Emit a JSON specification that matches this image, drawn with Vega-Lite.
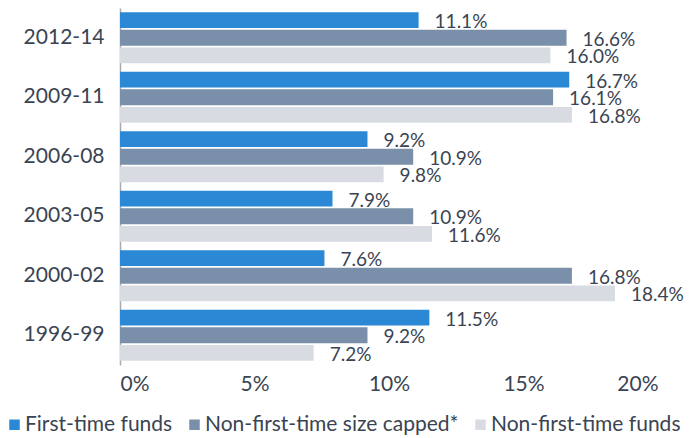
{
  "$schema": "https://vega.github.io/schema/vega-lite/v6.json",
  "width": 538,
  "height": 357,
  "autosize": {"type": "none"},
  "padding": {"left": 120, "top": 8, "right": 31, "bottom": 73},
  "background": "white",
  "config": {
    "view": {"stroke": null},
    "font": "Lato",
    "text": {"font": "Lato"}
  },
  "data": {
    "values": [
      {"period": "2012-14", "series": "First-time funds", "value": 0.111},
      {"period": "2012-14", "series": "Non-first-time size capped*", "value": 0.166},
      {"period": "2012-14", "series": "Non-first-time funds", "value": 0.160},
      {"period": "2009-11", "series": "First-time funds", "value": 0.167},
      {"period": "2009-11", "series": "Non-first-time size capped*", "value": 0.161},
      {"period": "2009-11", "series": "Non-first-time funds", "value": 0.168},
      {"period": "2006-08", "series": "First-time funds", "value": 0.092},
      {"period": "2006-08", "series": "Non-first-time size capped*", "value": 0.109},
      {"period": "2006-08", "series": "Non-first-time funds", "value": 0.098},
      {"period": "2003-05", "series": "First-time funds", "value": 0.079},
      {"period": "2003-05", "series": "Non-first-time size capped*", "value": 0.109},
      {"period": "2003-05", "series": "Non-first-time funds", "value": 0.116},
      {"period": "2000-02", "series": "First-time funds", "value": 0.076},
      {"period": "2000-02", "series": "Non-first-time size capped*", "value": 0.168},
      {"period": "2000-02", "series": "Non-first-time funds", "value": 0.184},
      {"period": "1996-99", "series": "First-time funds", "value": 0.115},
      {"period": "1996-99", "series": "Non-first-time size capped*", "value": 0.092},
      {"period": "1996-99", "series": "Non-first-time funds", "value": 0.072}
    ]
  },
  "encoding": {
    "y": {
      "field": "period",
      "type": "nominal",
      "sort": ["2012-14", "2009-11", "2006-08", "2003-05", "2000-02", "1996-99"],
      "scale": {"paddingInner": 0.14, "paddingOuter": 0.07},
      "axis": {
        "title": null,
        "ticks": false,
        "domainColor": "#a6abb2",
        "domainWidth": 1.5,
        "labelFontSize": 21,
        "labelColor": "#3a4452",
        "labelPadding": 16,
        "labelFont": "Lato"
      }
    },
    "yOffset": {
      "field": "series",
      "type": "nominal",
      "sort": ["First-time funds", "Non-first-time size capped*", "Non-first-time funds"],
      "scale": {"paddingInner": 0.1}
    },
    "x": {
      "field": "value",
      "type": "quantitative",
      "scale": {"domain": [0, 0.2], "nice": false},
      "axis": {
        "title": null,
        "format": ".0%",
        "values": [0, 0.05, 0.1, 0.15, 0.2],
        "grid": false,
        "domain": false,
        "ticks": false,
        "labelFontSize": 21,
        "labelColor": "#3a4452",
        "labelPadding": 8,
        "labelFont": "Lato"
      }
    }
  },
  "layer": [
    {
      "mark": {"type": "bar"},
      "encoding": {
        "color": {
          "field": "series",
          "type": "nominal",
          "sort": ["First-time funds", "Non-first-time size capped*", "Non-first-time funds"],
          "scale": {
            "domain": ["First-time funds", "Non-first-time size capped*", "Non-first-time funds"],
            "range": ["#2a88d4", "#7a8fa9", "#d8dce2"]
          },
          "legend": {
            "title": null,
            "orient": "none",
            "direction": "horizontal",
            "legendX": -116,
            "legendY": 406,
            "symbolType": "square",
            "symbolSize": 110,
            "symbolOpacity": 1,
            "labelFontSize": 21,
            "labelColor": "#3a4452",
            "labelFont": "Lato",
            "labelOffset": 0,
            "labelLimit": 0,
            "columnPadding": 11
          }
        }
      }
    },
    {
      "mark": {
        "type": "text",
        "align": "left",
        "baseline": "middle",
        "dx": 16,
        "dy": 2,
        "fontSize": 19,
        "color": "#3a4452"
      },
      "encoding": {
        "text": {"field": "value", "type": "quantitative", "format": ".1%"}
      }
    }
  ]
}
